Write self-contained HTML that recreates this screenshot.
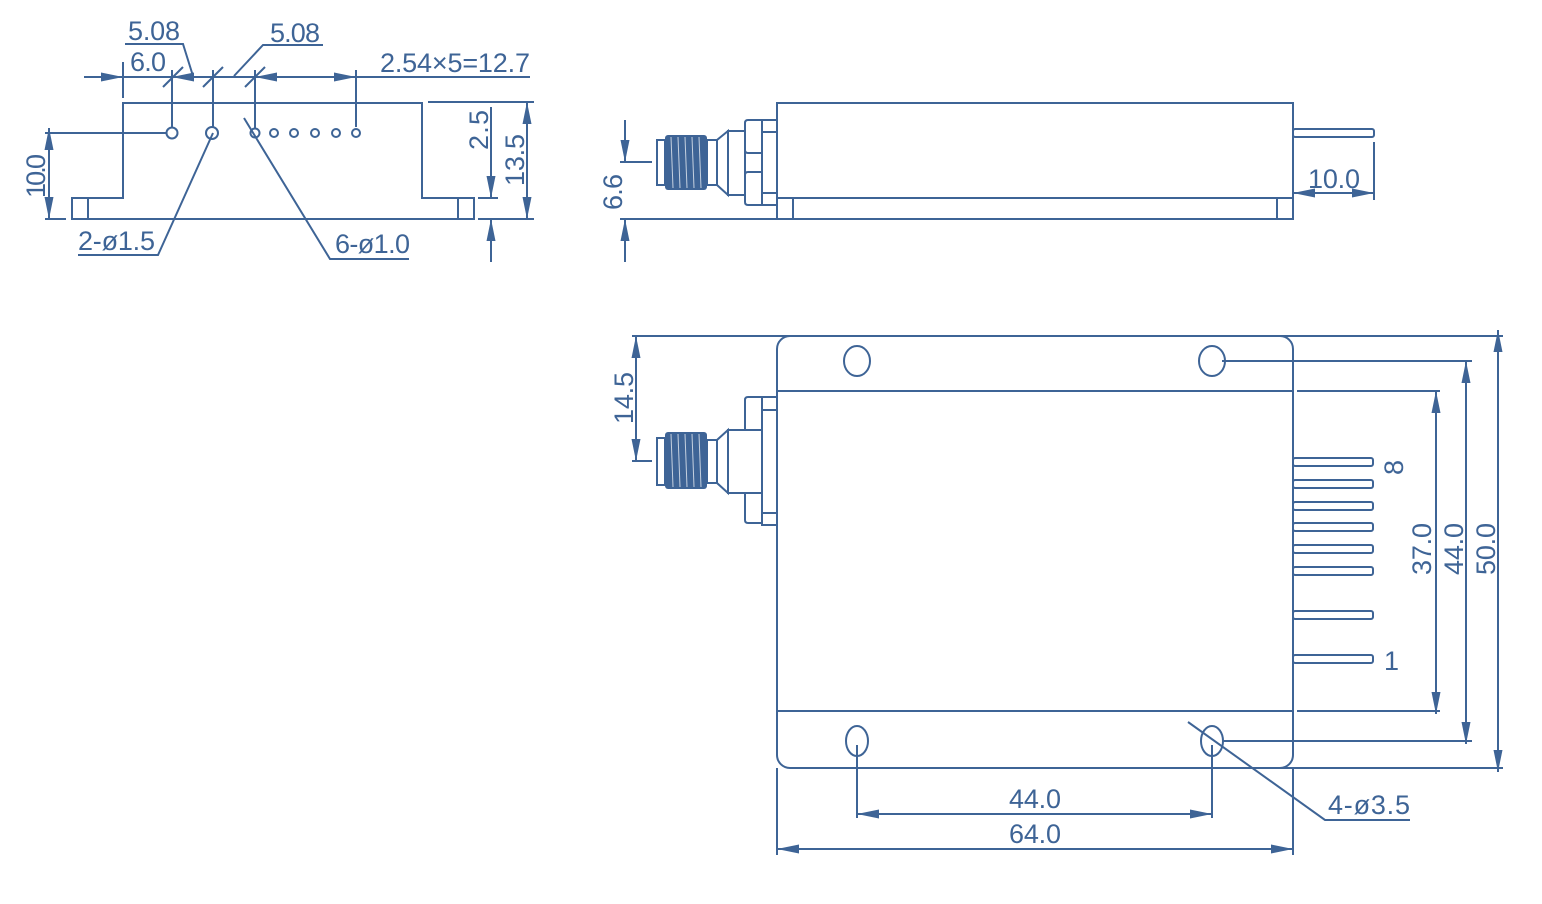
<!DOCTYPE html>
<html><head><meta charset="utf-8"><style>
html,body{margin:0;padding:0;background:#fff}
svg{display:block}
text{font-family:"Liberation Sans",sans-serif;font-size:27px;fill:#3e6496}
</style></head><body>
<svg width="1542" height="904" viewBox="0 0 1542 904" xmlns="http://www.w3.org/2000/svg">
<defs>
<marker id="a" viewBox="0 0 22 9" refX="22" refY="4.5" markerWidth="22" markerHeight="9" markerUnits="userSpaceOnUse" orient="auto-start-reverse"><path d="M0,0 L22,4.5 L0,9 z" fill="#3e6496"/></marker>
</defs>
<g stroke="#3e6496" stroke-width="2" fill="none">
<path d="M72,198 H123 V103 H422 V198 H474 V219 H72 Z"/>
<line x1="88" y1="198" x2="88" y2="219"/>
<line x1="458" y1="198" x2="458" y2="219"/>
<circle cx="172" cy="133" r="5.5"/><circle cx="212" cy="133" r="6"/>
<circle cx="255" cy="133" r="4.5"/><circle cx="274" cy="133" r="4"/><circle cx="294" cy="133" r="4"/>
<circle cx="315" cy="133" r="4"/><circle cx="336" cy="133" r="4"/><circle cx="356" cy="133" r="4"/>
<line x1="84" y1="77" x2="530" y2="77"/>
<line x1="123" y1="62" x2="123" y2="98"/>
<line x1="172" y1="70" x2="172" y2="127"/>
<line x1="213" y1="70" x2="213" y2="127"/>
<line x1="255" y1="70" x2="255" y2="128"/>
<line x1="356" y1="70" x2="356" y2="127"/>
<line x1="163" y1="87" x2="183" y2="67"/><line x1="203" y1="87" x2="223" y2="67"/><line x1="245" y1="87" x2="265" y2="67"/>
<polyline points="125,44 183,44 193,76"/>
<polyline points="323,45 263,45 234,76"/>
<line x1="45" y1="133" x2="166" y2="133"/>
<line x1="49" y1="128" x2="49" y2="219" marker-start="url(#a)" marker-end="url(#a)"/>
<line x1="45" y1="219" x2="66" y2="219"/>
<line x1="491" y1="107" x2="491" y2="198" marker-end="url(#a)"/>
<line x1="491" y1="262" x2="491" y2="219" marker-end="url(#a)"/>
<line x1="478" y1="198" x2="498" y2="198"/>
<line x1="478" y1="219" x2="534" y2="219"/>
<line x1="428" y1="102" x2="534" y2="102"/>
<line x1="527" y1="102" x2="527" y2="219" marker-start="url(#a)" marker-end="url(#a)"/>
<polyline points="78,255 158,255 213,133" />
<polyline points="244,118 330,259 409,259"/>
<rect x="777" y="103" width="516" height="95"/>
<rect x="777" y="198" width="516" height="21"/>
<line x1="793" y1="198" x2="793" y2="219"/><line x1="1277" y1="198" x2="1277" y2="219"/>
<rect x="1293" y="129" width="81" height="8" rx="2"/>
<line x1="1374" y1="142" x2="1374" y2="200"/>
<line x1="1293" y1="193" x2="1374" y2="193" marker-start="url(#a)" marker-end="url(#a)"/>
<rect x="762" y="120" width="15" height="85"/>
<line x1="762" y1="132" x2="777" y2="132"/><line x1="762" y1="193" x2="777" y2="193"/>
<path d="M762,120 H748 Q745,120 745,123 V150 Q745,153 748,153 H762"/>
<path d="M762,172 H748 Q745,172 745,175 V202 Q745,205 748,205 H762"/>
<rect x="728" y="131" width="17" height="64"/>
<polygon points="728,131 717,140 717,185 728,195"/>
<rect x="707" y="140" width="10" height="45"/>
<rect x="657" y="140" width="8" height="45"/>
<line x1="625" y1="120" x2="625" y2="162" marker-end="url(#a)"/>
<line x1="625" y1="262" x2="625" y2="219" marker-end="url(#a)"/>
<line x1="620" y1="162" x2="652" y2="162"/>
<line x1="620" y1="219" x2="777" y2="219"/>
<rect x="777" y="336" width="516" height="432" rx="13"/>
<line x1="777" y1="391" x2="1293" y2="391"/><line x1="777" y1="711" x2="1293" y2="711"/>
<ellipse cx="857" cy="361" rx="13" ry="15"/><ellipse cx="1212" cy="361" rx="13" ry="15"/>
<ellipse cx="857" cy="741" rx="11" ry="15"/><ellipse cx="1212" cy="741" rx="11" ry="15"/>
<line x1="632" y1="336" x2="790" y2="336"/>
<line x1="1280" y1="336" x2="1503" y2="336"/>
<line x1="1222" y1="361" x2="1472" y2="361"/>
<line x1="1297" y1="391" x2="1440" y2="391"/>
<line x1="1297" y1="711" x2="1440" y2="711"/>
<line x1="1222" y1="741" x2="1472" y2="741"/>
<line x1="1280" y1="768" x2="1503" y2="768"/>
<line x1="1436" y1="391" x2="1436" y2="714" marker-start="url(#a)" marker-end="url(#a)"/>
<line x1="1466" y1="361" x2="1466" y2="744" marker-start="url(#a)" marker-end="url(#a)"/>
<line x1="1498" y1="330" x2="1498" y2="772" marker-start="url(#a)" marker-end="url(#a)"/>
<rect x="1293" y="458" width="80" height="8" rx="2"/>
<rect x="1293" y="480" width="80" height="8" rx="2"/>
<rect x="1293" y="502" width="80" height="8" rx="2"/>
<rect x="1293" y="523" width="80" height="8" rx="2"/>
<rect x="1293" y="545" width="80" height="8" rx="2"/>
<rect x="1293" y="567" width="80" height="8" rx="2"/>
<rect x="1293" y="611" width="80" height="8" rx="2"/>
<rect x="1293" y="655" width="80" height="8" rx="2"/>
<rect x="762" y="397" width="15" height="128"/>
<line x1="762" y1="410" x2="777" y2="410"/><line x1="762" y1="513" x2="777" y2="513"/>
<path d="M762,397 H748 Q745,397 745,400 V430 H762"/>
<path d="M762,493 H745 V520 Q745,523 748,523 H762"/>
<rect x="728" y="430" width="34" height="63"/>
<polygon points="728,430 717,440 717,483 728,493"/>
<rect x="707" y="440" width="10" height="43"/>
<rect x="657" y="438" width="8" height="47"/>
<line x1="636" y1="336" x2="636" y2="461" marker-start="url(#a)" marker-end="url(#a)"/>
<line x1="632" y1="461" x2="652" y2="461"/>
<line x1="857" y1="745" x2="857" y2="818"/><line x1="1212" y1="745" x2="1212" y2="818"/>
<line x1="857" y1="814" x2="1212" y2="814" marker-start="url(#a)" marker-end="url(#a)"/>
<line x1="777" y1="768" x2="777" y2="855"/><line x1="1293" y1="768" x2="1293" y2="855"/>
<line x1="777" y1="849" x2="1293" y2="849" marker-start="url(#a)" marker-end="url(#a)"/>
<polyline points="1188,722 1325,820 1410,820"/>
</g>
<g fill="#3e6496">
<rect x="665" y="135" width="42" height="55" rx="3"/>
<rect x="665" y="432" width="42" height="57" rx="3"/>
</g>
<g stroke="#fff" stroke-width="1" opacity="0.7">
<line x1="671" y1="137" x2="673" y2="188"/><line x1="678" y1="137" x2="680" y2="188"/><line x1="685" y1="137" x2="687" y2="188"/><line x1="692" y1="137" x2="694" y2="188"/><line x1="699" y1="137" x2="701" y2="188"/>
<line x1="671" y1="434" x2="673" y2="487"/><line x1="678" y1="434" x2="680" y2="487"/><line x1="685" y1="434" x2="687" y2="487"/><line x1="692" y1="434" x2="694" y2="487"/><line x1="699" y1="434" x2="701" y2="487"/>
</g>
<g fill="#3e6496">
<polygon points="123,77 101,72.5 101,81.5"/>
<polygon points="172,77 194,72.5 194,81.5"/>
<polygon points="255,77 277,72.5 277,81.5"/>
<polygon points="356,77 334,72.5 334,81.5"/>
</g>
<text x="128" y="40" textLength="52">5.08</text>
<text x="270" y="42" textLength="50">5.08</text>
<text x="130" y="71" textLength="36">6.0</text>
<text x="380" y="72" textLength="150">2.54×5=12.7</text>
<text x="78" y="250" textLength="77">2-ø1.5</text>
<text x="335" y="253" textLength="75">6-ø1.0</text>
<text transform="translate(45,198) rotate(-90)" textLength="44">10.0</text>
<text transform="translate(488,150) rotate(-90)" textLength="40">2.5</text>
<text transform="translate(524,186) rotate(-90)" textLength="52">13.5</text>
<text transform="translate(622,210) rotate(-90)" textLength="36">6.6</text>
<text x="1308" y="188" textLength="52">10.0</text>
<text transform="translate(633,424) rotate(-90)" textLength="52">14.5</text>
<text transform="translate(1431,575) rotate(-90)" textLength="52">37.0</text>
<text transform="translate(1463,575) rotate(-90)" textLength="52">44.0</text>
<text transform="translate(1495,575) rotate(-90)" textLength="52">50.0</text>
<text transform="translate(1403,475) rotate(-90)">8</text>
<text x="1384" y="670">1</text>
<text x="1009" y="808" textLength="52">44.0</text>
<text x="1009" y="843" textLength="52">64.0</text>
<text x="1328" y="814" textLength="82">4-ø3.5</text>
</svg>
</body></html>
